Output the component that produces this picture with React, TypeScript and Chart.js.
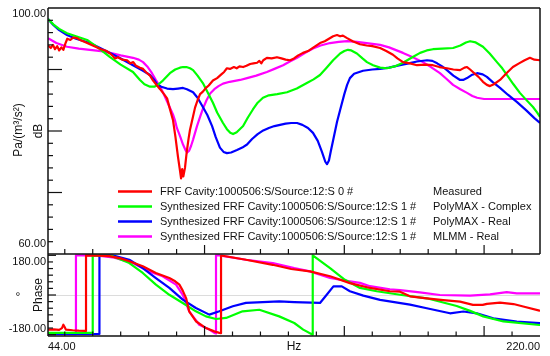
import React, { useEffect, useRef } from 'react';
import { Chart, registerables } from 'chart.js';

Chart.register(...registerables);

// ---- Legend / series text ----
const seriesNames = [
  'FRF Cavity:1000506:S/Source:12:S 0 #',
  'Synthesized FRF Cavity:1000506:S/Source:12:S 1 #',
  'Synthesized FRF Cavity:1000506:S/Source:12:S 1 #',
  'Synthesized FRF Cavity:1000506:S/Source:12:S 1 #',
];
const seriesMethods = ['Measured', 'PolyMAX - Complex', 'PolyMAX - Real', 'MLMM - Real'];
const seriesColors = ['#ff0000', '#00ff00', '#0000ff', '#ff00ff'];

// ---- Axis ranges / ticks ----
const freqMin = 44;
const freqMax = 220;
const magMin = 60;
const magMax = 100;
const phaseMin = -186;
const phaseMax = 186;
const freqMinorTicks = [50, 60, 70, 80, 90, 110, 120, 130, 140, 160, 170, 180, 190, 210];
const freqMajorTicks = [100, 150, 200];
const magMinorTicks = [62, 64, 66, 68, 72, 74, 76, 78, 82, 84, 86, 88, 92, 94, 96, 98];
const magMajorTicks = [70, 80, 90];
const phaseMinorTicks = [-150, -120, -90, -60, -30, 30, 60, 90, 120, 150];
const phaseMajorTicks = [-180, 0, 180];
const magTickLabels = [
  { v: 100, t: '100.00' },
  { v: 60, t: '60.00' },
];
const phaseTickLabels = [
  { v: 180, t: '180.00' },
  { v: -180, t: '-180.00' },
];
const freqTickLabels = ['44.00', '220.00'];
const freqTitle = 'Hz';
const magUnit = 'Pa/(m³/s²)';
const magTitle = 'dB';
const phaseUnit = '°';
const phaseTitle = 'Phase';

// ---- Magnitude (Hz, dB) ----
const measuredMag: number[][] = [
  [44, 93.9], [45, 93.5], [45.8, 94.0], [46.5, 93.3], [47.3, 93.8], [48, 93.1], [48.8, 93.6], [49.5, 93.2],
  [50.2, 94.2], [50.9, 95.0], [52, 94.8], [53, 95.2], [54.4, 95.1], [55.5, 94.8], [57, 94.5], [59, 94.1],
  [61, 93.7], [63, 93.3], [65, 93.0], [66.2, 92.6], [67.2, 92.2], [68, 91.8], [69, 92.0], [70.5, 91.6],
  [72.3, 91.5], [73.5, 91.0], [74.5, 91.2], [75.5, 90.6], [76.9, 90.3], [78, 90.1], [79, 89.6], [80.5, 89.0],
  [81.6, 88.2], [83, 87.4], [84.1, 86.8], [85.5, 86.0], [86.6, 85.3], [87.6, 83.6], [88.7, 81.8], [89.6, 79.0],
  [90.5, 75.8], [91.2, 73.6], [91.6, 72.3], [92.0, 73.8], [92.4, 72.6], [93.0, 74.0], [93.6, 76.5], [94.3, 78.8],
  [94.8, 80.2], [95.8, 82.2], [96.6, 83.8], [97.5, 85.0], [98.4, 86.0], [99.4, 86.4], [100.5, 87.0], [101.5, 87.4],
  [103, 88.2], [104.5, 88.6], [106, 89.2], [107, 89.6], [108, 90.2], [109.1, 90.1], [110.5, 90.4], [111.5, 90.2],
  [112.5, 90.5], [113.8, 90.4], [115, 90.6], [116.3, 90.9], [117.5, 91.0], [118.8, 91.1], [119.6, 91.4], [120.3, 91.0],
  [121, 91.5], [122.3, 91.9], [124, 91.8], [125.9, 92.0], [127.5, 91.8], [129, 91.6], [130.6, 91.5], [132, 91.8],
  [133.5, 92.3], [135.2, 92.7], [137, 93.0], [139, 93.6], [141.3, 94.3], [143, 94.6], [144.5, 95.0], [146, 95.4],
  [147.4, 95.6], [148.5, 95.4], [149.5, 95.5], [151, 95.1], [153, 94.6], [155.6, 94.1], [158, 93.9], [160, 93.8],
  [162.8, 93.5], [165, 93.0], [167.4, 92.4], [169, 91.8], [171, 91.2], [173.5, 91.0], [176, 90.7], [179, 90.8],
  [181.7, 90.7], [184, 90.4], [186.7, 90.2], [189, 90.0], [191.4, 89.9], [193, 90.3], [193.9, 90.4], [195, 90.0],
  [196, 89.6], [198, 88.8], [199.6, 88.0], [201, 87.5], [202.1, 87.3], [203.5, 87.6], [205.7, 88.3], [208, 89.4],
  [210.3, 90.4], [212.5, 91.0], [214.5, 91.5], [216.4, 91.9], [218, 91.6], [220, 91.5],
];

const polyComplexMag: number[][] = [
  [44, 98.2], [46, 97.3], [48, 96.6], [50.8, 95.9], [54, 95.4], [58, 94.8], [62, 93.5], [66.2, 92.0],
  [70, 90.8], [74.4, 89.6], [76.9, 88.3], [78.5, 87.6], [80.5, 87.2], [82, 87.2], [83, 87.4], [85.1, 88.2],
  [87.6, 89.4], [89.5, 90.0], [91.2, 90.3], [92.3, 90.4], [93.5, 90.4], [94.8, 90.2], [95.9, 89.9], [97.5, 89.0],
  [99.4, 87.8], [101, 86.4], [103, 84.6], [104.5, 83.0], [106.6, 81.3], [108, 80.3], [109.2, 79.7], [110.2, 79.5],
  [111.5, 79.8], [113.8, 80.8], [115.5, 82.2], [117.3, 83.5], [119, 84.6], [120.9, 85.4], [123, 85.8], [126, 86.0],
  [129.5, 86.3], [133, 86.9], [136.6, 87.8], [139, 88.4], [141.3, 89.1], [143.5, 90.2], [146, 91.5], [148.5, 92.6],
  [150, 93.0], [151.3, 93.2], [152.5, 93.1], [154.5, 92.6], [156.5, 91.8], [158.1, 91.2], [160.3, 90.7], [162.8, 90.3],
  [165.3, 90.2], [168, 90.5], [171, 91.1], [174, 91.9], [177.1, 92.7], [179.5, 93.1], [181.7, 93.3], [185, 93.4],
  [188.9, 93.5], [191.5, 93.9], [193.5, 94.4], [195, 94.6], [197, 94.4], [199.6, 93.7], [202, 92.6], [204.6, 91.2],
  [206.5, 90.2], [208.2, 89.1], [210.5, 87.6], [212.8, 86.2], [215, 85.1], [217.5, 83.9], [219, 83.0], [220, 82.3],
];

const polyRealMag: number[][] = [
  [44, 98.2], [46, 97.2], [48, 96.4], [50.8, 95.6], [54, 95.0], [59, 94.3], [63, 93.4], [66.2, 92.7],
  [70, 91.8], [74.4, 90.7], [78, 89.8], [80.5, 89.1], [82, 88.3], [83, 87.6], [84.5, 87.2], [86.6, 86.9],
  [88.7, 86.8], [90.5, 86.9], [92.3, 87.0], [93.7, 86.8], [95.9, 86.3], [97.5, 85.4], [99.4, 83.9], [101, 82.6],
  [102.7, 80.8], [104, 79.0], [105.5, 77.3], [106.8, 76.6], [108, 76.4], [109.5, 76.5], [111.6, 76.9], [113.5, 77.3],
  [115.2, 77.8], [117, 78.7], [119, 79.5], [121, 80.1], [123, 80.5], [125, 80.8], [127, 81.0], [129, 81.2],
  [131, 81.3], [133.1, 81.3], [135, 81.0], [137, 80.5], [138.8, 79.7], [140.5, 78.4], [142, 76.6], [143.2, 75.0],
  [143.8, 74.6], [144.5, 75.2], [145.2, 76.8], [146, 78.5], [147.4, 81.5], [148.5, 83.4], [150, 86.0], [151, 87.5],
  [152, 88.6], [153.5, 89.3], [156.7, 89.8], [160, 90.0], [162.8, 90.1], [166, 90.3], [169.9, 90.7], [173, 91.0],
  [176, 91.3], [179.6, 91.5], [181.5, 91.4], [183.2, 91.0], [185, 90.5], [186.7, 89.9], [189, 89.0], [191.4, 88.3],
  [192.5, 88.3], [193.9, 88.6], [195.5, 89.1], [197.5, 89.4], [199.5, 89.2], [201, 88.8], [203, 88.0], [205.7, 87.0],
  [208.5, 85.9], [211.8, 84.7], [215, 83.4], [218, 82.1], [220, 81.3],
];

const mlmmRealMag: number[][] = [
  [44, 95.1], [47, 94.3], [50.8, 93.7], [55, 93.4], [59, 93.2], [63, 93.0], [66.2, 92.7], [70, 92.3],
  [74.4, 91.9], [76.5, 91.6], [78, 91.2], [79.5, 90.5], [81.2, 89.4], [82.6, 88.3], [84.1, 87.2], [85.4, 86.0],
  [86.6, 84.8], [87.7, 83.7], [88.7, 82.7], [89.5, 81.6], [90.1, 80.5], [91.2, 79.2], [92.3, 77.8], [93.3, 76.8],
  [93.8, 76.5], [94.5, 76.8], [95.2, 77.6], [95.9, 78.6], [97.3, 80.8], [98.4, 82.3], [99.4, 83.6], [100.7, 85.0],
  [102, 86.1], [103.5, 86.8], [105, 87.3], [106.6, 87.7], [109, 88.0], [112.7, 88.3], [115.2, 88.6], [118.5, 89.0],
  [122.3, 89.6], [125, 90.1], [128.1, 90.7], [130.5, 91.3], [133.1, 91.9], [136, 92.7], [138.8, 93.4], [141.5, 93.9],
  [144.9, 94.3], [148, 94.5], [151, 94.6], [154.5, 94.5], [158, 94.3], [162.8, 94.0], [166, 93.6], [171, 92.7],
  [174.5, 92.0], [178.1, 91.2], [181, 90.4], [184.2, 89.4], [186.5, 88.5], [188.9, 87.5], [191.5, 86.8], [193.9, 86.2],
  [195.8, 85.7], [197.5, 85.4], [200, 85.2], [203.2, 85.2], [208, 85.2], [214, 85.2], [220, 85.2],
];

// ---- Phase (Hz, degrees) ----
const measuredPhase: number[][] = [
  [44, -157], [46, -156], [48, -158], [49, -150], [49.5, -135], [50, -146], [50.4, -157], [52.8, -160],
  [55, -162], [57.6, -163], [57.6, 180], [62, 179], [65.9, 176], [70, 166], [73.1, 153], [77.9, 130],
  [82.6, 100], [87.4, 77], [89.5, 62], [91, 47], [92.2, 20], [93.4, -14], [94.5, -74], [96.9, -119],
  [100.5, -150], [103.5, -165], [105.3, -172], [105.9, -173], [105.9, 178], [106.5, 178], [114.8, 160], [124.4, 137],
  [131, 118], [137.7, 107], [144.9, 85], [152, 54], [159.2, 32], [166.3, 17], [169.9, 15], [173.5, -6],
  [179.5, -15], [185.4, -23], [191.4, -30], [196, -45], [199.5, -45], [201, -40], [205.7, -35], [210.5, -41],
  [214, -52], [219.8, -71], [220, -72],
];

const polyComplexPhase: number[][] = [
  [44, -172], [50, -172], [55, -172], [60, -172], [60, 180], [63, 179], [67.1, 176], [73.1, 145],
  [77.9, 100], [82.6, 47], [87.4, 1], [92.2, -36], [96.9, -74], [100.5, -97], [104.1, -109], [107.7, -104],
  [113.6, -74], [119.6, -67], [126.7, -97], [132.1, -127], [135.3, -157], [138.7, -180], [138.7, 180], [144.9, 122],
  [150.2, 69], [155.6, 32], [161.6, 17], [169.9, 1], [179.5, -15], [190.2, -50], [195, -72], [199.7, -97],
  [206.9, -120], [219.8, -136], [220, -136],
];

const polyRealPhase: number[][] = [
  [44, -177], [62.4, -177], [62.4, 180], [67.1, 180], [73.1, 160], [77.9, 122], [82.6, 77], [87.4, 32],
  [92.2, -21], [96.9, -59], [101.7, -89], [105.3, -74], [110.1, -51], [114.8, -36], [120.8, -32], [126.7, -29],
  [132.1, -32], [141.3, -36], [143.7, 1], [146.1, 39], [149.1, 39], [152, 17], [156.8, -3], [162.8, -22],
  [173.5, -44], [179.5, -60], [187.8, -83], [192.6, -75], [197.4, -83], [203.3, -106], [211.7, -121], [219.8, -128],
  [220, -128],
];

const mlmmRealPhase: number[][] = [
  [44, -178], [54, -178], [54, 180], [61.2, 180], [67.1, 171], [74.3, 145], [80.2, 107], [85, 85],
  [89.8, 47], [92.2, 1], [94.5, -74], [98.1, -135], [101.7, -157], [103.5, -172], [104.1, -175], [104.1, 180],
  [105.3, 180], [114.8, 160], [124.4, 145], [132.1, 122], [137.7, 107], [144.9, 77], [152, 62], [155.6, 55],
  [159.2, 40], [166.3, 26], [169.9, 22], [177, 12], [184.2, 0], [195, -3], [202.1, 3], [208.1, 13],
  [211.7, 7], [220, 7],
];

const magnitudeSeries = [measuredMag, polyComplexMag, polyRealMag, mlmmRealMag];
const phaseSeries = [measuredPhase, polyComplexPhase, polyRealPhase, mlmmRealPhase];

const FONT = '"Liberation Sans", Arial, Helvetica, sans-serif';

function toPoints(arr: number[][]) {
  return arr.map(([x, y]) => ({ x, y }));
}

const framePlugin = {
  id: 'frfFrame',
  beforeDatasetsDraw(chart: any) {
    const { ctx, chartArea } = chart;
    const yP = chart.scales.yPhase;
    const y0 = Math.round(yP.getPixelForValue(0)) + 0.5;
    ctx.save();
    ctx.strokeStyle = '#dcdcdc';
    ctx.lineWidth = 1;
    ctx.beginPath();
    ctx.moveTo(chartArea.left, y0);
    ctx.lineTo(chartArea.right, y0);
    ctx.stroke();
    ctx.restore();
  },
  afterDatasetsDraw(chart: any) {
    const { ctx, chartArea } = chart;
    const xs = chart.scales.x;
    const yM = chart.scales.yMag;
    const yP = chart.scales.yPhase;
    const L = chartArea.left;
    const R = chartArea.right;
    const topM = yM.top;
    const botM = yM.bottom;
    const botP = yP.bottom;

    ctx.save();
    ctx.strokeStyle = '#111111';
    ctx.lineWidth = 1.5;
    ctx.lineCap = 'butt';
    const seg = (x1: number, y1: number, x2: number, y2: number) => {
      ctx.beginPath();
      ctx.moveTo(x1, y1);
      ctx.lineTo(x2, y2);
      ctx.stroke();
    };
    // frame
    seg(L, topM, R, topM);
    seg(R, topM, R, botM);
    seg(L, botM, R, botM);
    seg(L, topM, L, botP);
    seg(L, botP, R, botP);

    ctx.lineWidth = 1.2;
    // magnitude ticks
    magMinorTicks.forEach((v) => {
      const y = yM.getPixelForValue(v);
      seg(L, y, L + 5, y);
    });
    magMajorTicks.forEach((v) => {
      const y = yM.getPixelForValue(v);
      seg(L, y, L + 14, y);
    });
    // phase ticks
    phaseMinorTicks.forEach((v) => {
      const y = yP.getPixelForValue(v);
      seg(L, y, L + 5, y);
    });
    phaseMajorTicks.forEach((v) => {
      const y = yP.getPixelForValue(v);
      seg(L, y, L + 8, y);
    });
    // frequency ticks on both panels
    freqMinorTicks.forEach((v) => {
      const x = xs.getPixelForValue(v);
      seg(x, botM, x, botM - 5);
      seg(x, botP, x, botP - 4.5);
    });
    freqMajorTicks.forEach((v) => {
      const x = xs.getPixelForValue(v);
      seg(x, botM, x, botM - 9);
      seg(x, botP, x, botP - 10);
    });

    // tick labels
    ctx.fillStyle = '#111111';
    ctx.font = `11px ${FONT}`;
    ctx.textAlign = 'right';
    ctx.textBaseline = 'middle';
    magTickLabels.forEach(({ v, t }) => {
      const y = yM.getPixelForValue(v);
      const off = v === magMax ? 6 : -10;
      ctx.fillText(t, L - 2, y + off);
    });
    phaseTickLabels.forEach(({ v, t }) => {
      const y = yP.getPixelForValue(v);
      const off = v > 0 ? 7 : -6;
      ctx.fillText(t, L - 2, y + off);
    });
    const yLab = botP + 11;
    ctx.textAlign = 'left';
    ctx.fillText(freqTickLabels[0], xs.getPixelForValue(freqMin), yLab);
    ctx.textAlign = 'right';
    ctx.fillText(freqTickLabels[1], xs.getPixelForValue(freqMax), yLab);
    ctx.textAlign = 'center';
    ctx.font = `12px ${FONT}`;
    ctx.fillText(freqTitle, (L + R) / 2, yLab);

    // axis titles (rotated)
    const rot = (text: string, x: number, y: number) => {
      ctx.save();
      ctx.translate(x, y);
      ctx.rotate(-Math.PI / 2);
      ctx.textAlign = 'center';
      ctx.textBaseline = 'middle';
      ctx.fillText(text, 0, 0);
      ctx.restore();
    };
    ctx.font = `12px ${FONT}`;
    const midMag = yM.getPixelForValue(80);
    rot(magUnit, 19, midMag - 1);
    rot(magTitle, 39, midMag);
    const midPh = yP.getPixelForValue(0);
    rot(phaseTitle, 39, midPh);
    ctx.textAlign = 'center';
    ctx.fillText(phaseUnit, 18, midPh + 3);

    // legend
    const legendRows = [191.5, 206.5, 221.5, 236.5];
    ctx.font = `11px ${FONT}`;
    seriesNames.forEach((name, i) => {
      const y = legendRows[i];
      ctx.strokeStyle = seriesColors[i];
      ctx.lineWidth = 2.5;
      seg(118, y, 152, y);
      ctx.fillStyle = '#111111';
      ctx.textAlign = 'left';
      ctx.textBaseline = 'middle';
      ctx.fillText(name, 160, y);
      ctx.fillText(seriesMethods[i], 433, y);
    });
    ctx.restore();
  },
};

export default function App() {
  const canvasRef = useRef<HTMLCanvasElement | null>(null);

  useEffect(() => {
    document.body.style.margin = '0';
    const canvas = canvasRef.current;
    if (!canvas) return;

    const datasets: any[] = [];
    magnitudeSeries.forEach((s, i) => {
      datasets.push({
        label: seriesMethods[i] + ' (dB)',
        data: toPoints(s),
        xAxisID: 'x',
        yAxisID: 'yMag',
        borderColor: seriesColors[i],
        backgroundColor: seriesColors[i],
        borderWidth: 2.2,
        pointRadius: 0,
        tension: 0,
        borderJoinStyle: 'round',
        fill: false,
      });
    });
    phaseSeries.forEach((s, i) => {
      datasets.push({
        label: seriesMethods[i] + ' (phase)',
        data: toPoints(s),
        xAxisID: 'x',
        yAxisID: 'yPhase',
        borderColor: seriesColors[i],
        backgroundColor: seriesColors[i],
        borderWidth: 2.2,
        pointRadius: 0,
        tension: 0,
        borderJoinStyle: 'round',
        fill: false,
      });
    });

    const hidden = {
      ticks: { display: false },
      grid: { display: false, drawTicks: false, tickLength: 0 },
      border: { display: false },
      title: { display: false },
    };

    const chart = new Chart(canvas, {
      type: 'line',
      data: { datasets },
      options: {
        responsive: false,
        maintainAspectRatio: false,
        animation: false,
        events: [],
        parsing: false as any,
        normalized: true,
        layout: { padding: { left: 48, right: 10, top: 8, bottom: 20 } },
        plugins: { legend: { display: false }, tooltip: { enabled: false } },
        scales: {
          x: {
            type: 'linear',
            min: freqMin,
            max: freqMax,
            ...hidden,
            afterFit: (s: any) => {
              s.height = 0;
            },
          },
          yPhase: {
            type: 'linear',
            position: 'left',
            stack: 'panels',
            stackWeight: 1,
            min: phaseMin,
            max: phaseMax,
            ...hidden,
            afterFit: (s: any) => {
              s.width = 0;
            },
          },
          yMag: {
            type: 'linear',
            position: 'left',
            stack: 'panels',
            stackWeight: 3,
            min: magMin,
            max: magMax,
            ...hidden,
            afterFit: (s: any) => {
              s.width = 0;
            },
          },
        } as any,
      },
      plugins: [framePlugin],
    });

    return () => {
      chart.destroy();
    };
  }, []);

  return (
    <div style={{ position: 'absolute', left: 0, top: 0, width: 550, height: 356, background: '#ffffff' }}>
      <canvas ref={canvasRef} width={550} height={356} style={{ display: 'block', width: 550, height: 356 }} />
    </div>
  );
}
